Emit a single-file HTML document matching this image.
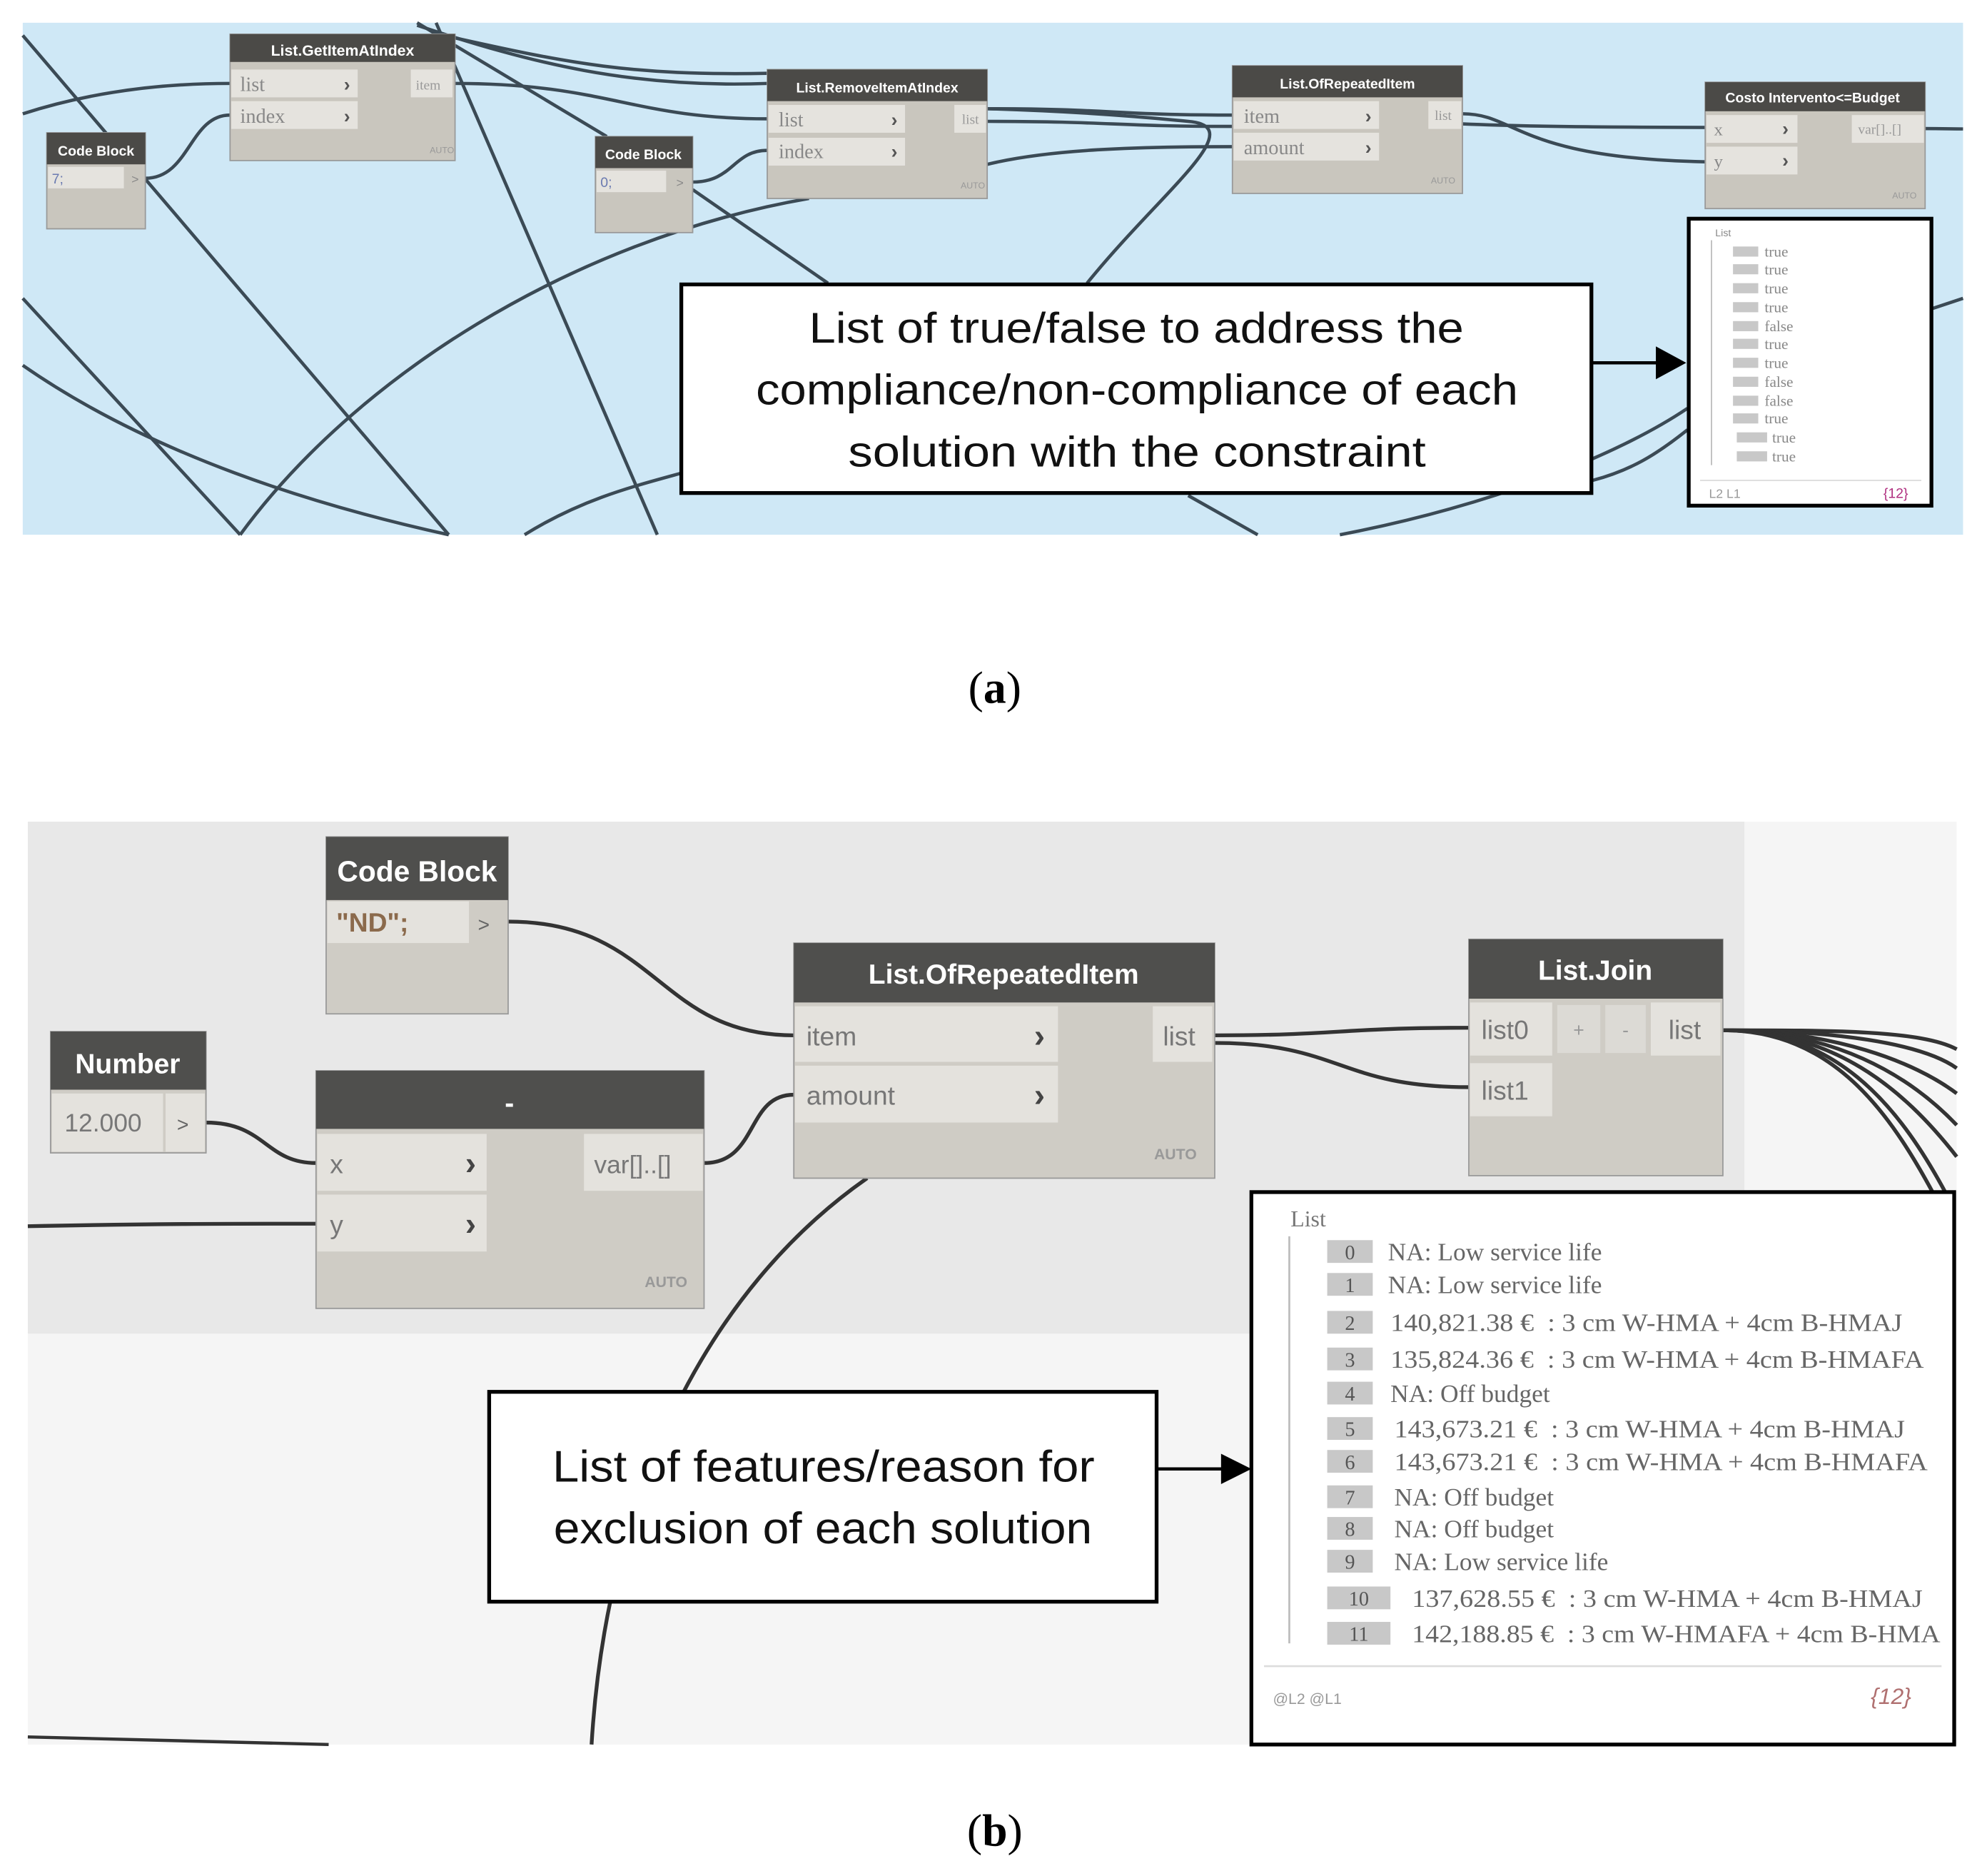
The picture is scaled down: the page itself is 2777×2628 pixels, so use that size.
<!DOCTYPE html>
<html><head><meta charset="utf-8"><style>
html,body{margin:0;padding:0;background:#fff;}
svg{display:block;}
text{font-family:"Liberation Sans",sans-serif;}
.serif,.serif text{font-family:"Liberation Serif",serif;}
</style></head><body>
<svg width="2777" height="2628" viewBox="0 0 1568 1484" preserveAspectRatio="none" xmlns="http://www.w3.org/2000/svg">
<rect width="1568" height="1484" fill="#fff"/>
<!-- PANEL A -->
<rect x="18" y="18" width="1535" height="405" fill="#cfe8f6"/>
<g fill="none" stroke="#3b4a55" stroke-width="2.6">
<path d="M18 28 L355 423"/>
<path d="M330 18 L480 108"/>
<path d="M345 18 L520 423"/>
<path d="M18 236 L190 423"/>
<path d="M18 289 C120 360 250 400 355 423"/>
<path d="M190 423 C280 300 450 190 640 157"/>
<path d="M415 423 C460 395 500 385 540 374"/>
<path d="M548 150 L655 224"/>
<path d="M860 224 C920 150 990 100 940 96 C900 92 850 88 781 86"/>
<path d="M781 130 C830 118 900 116 975 116"/>
<path d="M940 392 L995 423"/>
<path d="M1060 423 C1180 400 1280 360 1335 323"/>
<path d="M1529 244 L1553 236"/>
<path d="M18 90 C80 70 140 66 182 66"/>
<path d="M115 141 C150 141 150 91 182 91"/>
<path d="M360 66 C480 66 500 94 607 94"/>
<path d="M548 144 C580 144 580 119 607 119"/>
<path d="M330 20 C420 50 500 70 607 66"/>
<path d="M360 30 C450 50 500 60 607 58"/>
<path d="M781 86 C880 86 880 91 975 91"/>
<path d="M781 96 C880 96 880 100 975 100"/>
<path d="M1157 90 C1200 90 1200 125 1349 128"/>
<path d="M1157 98 C1250 102 1400 100 1553 102"/>
<path d="M1260 380 C1290 372 1310 360 1335 340"/>
</g>
<!-- nodes A -->
<g>
<rect x="182" y="27" width="178" height="100" fill="#c9c6be" stroke="#999" stroke-width="1"/>
<rect x="182" y="27" width="178" height="22" fill="#4b4a47"/>
<text x="271" y="44" font-size="12" fill="#fff" text-anchor="middle" font-weight="bold">List.GetItemAtIndex</text>
<rect x="183" y="55" width="100" height="22" fill="#e5e3de"/><rect x="183" y="80" width="100" height="22" fill="#e5e3de"/>
<rect x="325" y="55" width="33" height="22" fill="#e5e3de"/>
<text x="190" y="72" class="serif" font-size="16" fill="#888">list</text><text x="190" y="97" class="serif" font-size="16" fill="#888">index</text>
<text x="272" y="72" font-size="15" fill="#555" font-weight="bold">›</text><text x="272" y="97" font-size="15" fill="#555" font-weight="bold">›</text>
<text x="329" y="71" class="serif" font-size="11" fill="#999">item</text>
<text x="340" y="121" font-size="7" fill="#999">AUTO</text>

<rect x="37" y="105" width="78" height="76" fill="#c9c6be" stroke="#999"/>
<rect x="37" y="105" width="78" height="25" fill="#4b4a47"/>
<text x="76" y="123" font-size="11" fill="#fff" text-anchor="middle" font-weight="bold">Code Block</text>
<rect x="38" y="132" width="60" height="17" fill="#e5e3de"/>
<text x="41" y="145" font-size="11" fill="#6a7ab0">7;</text><text x="104" y="145" font-size="10" fill="#888">&gt;</text>

<rect x="471" y="108" width="77" height="76" fill="#c9c6be" stroke="#999"/>
<rect x="471" y="108" width="77" height="25" fill="#4b4a47"/>
<text x="509" y="126" font-size="11" fill="#fff" text-anchor="middle" font-weight="bold">Code Block</text>
<rect x="472" y="135" width="55" height="17" fill="#e5e3de"/>
<text x="475" y="148" font-size="11" fill="#6a7ab0">0;</text><text x="535" y="148" font-size="10" fill="#888">&gt;</text>

<rect x="607" y="55" width="174" height="102" fill="#c9c6be" stroke="#999"/>
<rect x="607" y="55" width="174" height="25" fill="#4b4a47"/>
<text x="694" y="73" font-size="11" fill="#fff" text-anchor="middle" font-weight="bold">List.RemoveItemAtIndex</text>
<rect x="608" y="83" width="108" height="22" fill="#e5e3de"/><rect x="608" y="109" width="108" height="22" fill="#e5e3de"/>
<rect x="755" y="83" width="25" height="22" fill="#e5e3de"/>
<text x="616" y="100" class="serif" font-size="16" fill="#888">list</text><text x="616" y="125" class="serif" font-size="16" fill="#888">index</text>
<text x="705" y="100" font-size="15" fill="#555" font-weight="bold">›</text><text x="705" y="125" font-size="15" fill="#555" font-weight="bold">›</text>
<text x="761" y="98" class="serif" font-size="11" fill="#999">list</text>
<text x="760" y="149" font-size="7" fill="#999">AUTO</text>

<rect x="975" y="52" width="182" height="101" fill="#c9c6be" stroke="#999"/>
<rect x="975" y="52" width="182" height="25" fill="#4b4a47"/>
<text x="1066" y="70" font-size="11" fill="#fff" text-anchor="middle" font-weight="bold">List.OfRepeatedItem</text>
<rect x="976" y="80" width="115" height="22" fill="#e5e3de"/><rect x="976" y="105" width="115" height="22" fill="#e5e3de"/>
<rect x="1130" y="80" width="26" height="22" fill="#e5e3de"/>
<text x="984" y="97" class="serif" font-size="16" fill="#888">item</text><text x="984" y="122" class="serif" font-size="16" fill="#888">amount</text>
<text x="1080" y="97" font-size="15" fill="#555" font-weight="bold">›</text><text x="1080" y="122" font-size="15" fill="#555" font-weight="bold">›</text>
<text x="1135" y="95" class="serif" font-size="11" fill="#999">list</text>
<text x="1132" y="145" font-size="7" fill="#999">AUTO</text>

<rect x="1349" y="65" width="174" height="100" fill="#c9c6be" stroke="#999"/>
<rect x="1349" y="65" width="174" height="23" fill="#4b4a47"/>
<text x="1434" y="81" font-size="11" fill="#fff" text-anchor="middle" font-weight="bold">Costo Intervento&lt;=Budget</text>
<rect x="1350" y="91" width="72" height="22" fill="#e5e3de"/><rect x="1350" y="116" width="72" height="22" fill="#e5e3de"/>
<rect x="1465" y="91" width="57" height="22" fill="#e5e3de"/>
<text x="1356" y="107" class="serif" font-size="14" fill="#888">x</text><text x="1356" y="132" class="serif" font-size="14" fill="#888">y</text>
<text x="1410" y="107" font-size="15" fill="#555" font-weight="bold">›</text><text x="1410" y="132" font-size="15" fill="#555" font-weight="bold">›</text>
<text x="1470" y="106" class="serif" font-size="11" fill="#999">var[]..[]</text>
<text x="1497" y="157" font-size="7" fill="#999">AUTO</text>
</g>
<!-- watch A -->
<rect x="1336" y="173" width="192" height="227" fill="#fff" stroke="#000" stroke-width="3"/>
<text x="1357" y="187" font-size="8" fill="#888">List</text>
<line x1="1354" y1="190" x2="1354" y2="368" stroke="#bbb" stroke-width="1"/>
<g class="serif" font-size="12" fill="#888">
<g fill="#c8c8c8"><rect x="1371" y="195" width="20" height="8"/><rect x="1371" y="209" width="20" height="8"/><rect x="1371" y="224" width="20" height="8"/><rect x="1371" y="239" width="20" height="8"/><rect x="1371" y="254" width="20" height="8"/><rect x="1371" y="268" width="20" height="8"/><rect x="1371" y="283" width="20" height="8"/><rect x="1371" y="298" width="20" height="8"/><rect x="1371" y="313" width="20" height="8"/><rect x="1371" y="327" width="20" height="8"/><rect x="1374" y="342" width="24" height="8"/><rect x="1374" y="357" width="24" height="8"/></g>
<text x="1396" y="203">true</text><text x="1396" y="217">true</text><text x="1396" y="232">true</text><text x="1396" y="247">true</text><text x="1396" y="262">false</text><text x="1396" y="276">true</text><text x="1396" y="291">true</text><text x="1396" y="306">false</text><text x="1396" y="321">false</text><text x="1396" y="335">true</text><text x="1402" y="350">true</text><text x="1402" y="365">true</text>
</g>
<line x1="1345" y1="380" x2="1520" y2="380" stroke="#ddd"/>
<text x="1352" y="394" font-size="10" fill="#999">L2  L1</text>
<text x="1490" y="394" font-size="11" fill="#b03080">{12}</text>
<!-- callout A -->
<rect x="539" y="225" width="720" height="165" fill="#fff" stroke="#000" stroke-width="3"/>
<g font-size="34" fill="#111">
<text x="640" y="271" textLength="518" lengthAdjust="spacingAndGlyphs">List of true/false to address the</text>
<text x="598" y="320" textLength="603" lengthAdjust="spacingAndGlyphs">compliance/non-compliance of each</text>
<text x="671" y="369" textLength="457" lengthAdjust="spacingAndGlyphs">solution with the constraint</text>
</g>
<line x1="1259" y1="287" x2="1312" y2="287" stroke="#000" stroke-width="2.5"/>
<polygon points="1310,274 1334,287 1310,300" fill="#000"/>
<text x="787" y="556" class="serif" font-size="36" text-anchor="middle" fill="#000">(<tspan font-weight="bold">a</tspan>)</text>

<!-- PANEL B -->
<rect x="22" y="650" width="1526" height="730" fill="#f5f5f5"/>
<rect x="22" y="650" width="1358" height="405" fill="#e8e8e8"/>
<g fill="none" stroke="#333" stroke-width="3">
<path d="M402 729 C520 729 520 819 628 819"/>
<path d="M163 888 C210 888 210 920 250 920"/>
<path d="M22 970 C120 968 180 968 250 968"/>
<path d="M557 920 C600 920 590 866 628 866"/>
<path d="M686 932 C560 1020 480 1180 468 1380"/>
<path d="M961 819 C1060 819 1060 813 1162 813"/>
<path d="M961 825 C1060 825 1060 860 1162 860"/>
<path d="M1363 815 C1450 815 1520 815 1548 830"/>
<path d="M1363 815 C1450 815 1520 825 1548 845"/>
<path d="M1363 815 C1450 815 1515 840 1548 865"/>
<path d="M1363 815 C1450 815 1510 850 1548 890"/>
<path d="M1363 815 C1450 815 1505 860 1548 915"/>
<path d="M1363 815 C1450 815 1500 870 1540 945"/>
<path d="M1363 815 C1450 815 1495 880 1530 945"/>
<path d="M22 1374 C100 1376 180 1378 260 1380" stroke-width="2.5"/>
</g>
<!-- Code Block b -->
<rect x="258" y="662" width="144" height="140" fill="#cfccc5" stroke="#999"/>
<rect x="258" y="662" width="144" height="50" fill="#4f4f4d"/>
<text x="330" y="697" font-size="23" fill="#fff" text-anchor="middle" font-weight="bold">Code Block</text>
<rect x="259" y="713" width="112" height="33" fill="#e4e2dd"/>
<text x="266" y="737" font-size="21" fill="#8b6a4c" font-weight="bold">"ND";</text>
<text x="378" y="737" font-size="16" fill="#666">&gt;</text>
<!-- Number -->
<rect x="40" y="816" width="123" height="96" fill="#cfccc5" stroke="#999"/>
<rect x="40" y="816" width="123" height="46" fill="#4f4f4d"/>
<text x="101" y="849" font-size="22" fill="#fff" text-anchor="middle" font-weight="bold">Number</text>
<rect x="41" y="865" width="88" height="46" fill="#e4e2dd"/><rect x="131" y="865" width="31" height="46" fill="#e4e2dd"/>
<text x="51" y="895" font-size="20" fill="#777">12.000</text><text x="140" y="895" font-size="16" fill="#666">&gt;</text>
<!-- minus node -->
<rect x="250" y="847" width="307" height="188" fill="#cfccc5" stroke="#999"/>
<rect x="250" y="847" width="307" height="46" fill="#4f4f4d"/>
<text x="403" y="880" font-size="22" fill="#fff" text-anchor="middle" font-weight="bold">-</text>
<rect x="251" y="897" width="134" height="45" fill="#e4e2dd"/><rect x="251" y="945" width="134" height="45" fill="#e4e2dd"/>
<rect x="462" y="897" width="94" height="45" fill="#e4e2dd"/>
<text x="261" y="928" font-size="21" fill="#777">x</text><text x="261" y="976" font-size="21" fill="#777">y</text>
<text x="368" y="929" font-size="26" fill="#444" font-weight="bold">›</text><text x="368" y="977" font-size="26" fill="#444" font-weight="bold">›</text>
<text x="470" y="928" font-size="20" fill="#777">var[]..[]</text>
<text x="510" y="1018" font-size="12" fill="#999" font-weight="bold">AUTO</text>
<!-- OfRepeatedItem b -->
<rect x="628" y="746" width="333" height="186" fill="#cfccc5" stroke="#999"/>
<rect x="628" y="746" width="333" height="47" fill="#4f4f4d"/>
<text x="794" y="778" font-size="22" fill="#fff" text-anchor="middle" font-weight="bold">List.OfRepeatedItem</text>
<rect x="629" y="796" width="208" height="44" fill="#e4e2dd"/><rect x="629" y="843" width="208" height="45" fill="#e4e2dd"/>
<rect x="912" y="796" width="47" height="44" fill="#e4e2dd"/>
<text x="638" y="827" font-size="21" fill="#777">item</text><text x="638" y="874" font-size="21" fill="#777">amount</text>
<text x="818" y="828" font-size="26" fill="#444" font-weight="bold">›</text><text x="818" y="875" font-size="26" fill="#444" font-weight="bold">›</text>
<text x="920" y="827" font-size="21" fill="#777">list</text>
<text x="913" y="917" font-size="12" fill="#999" font-weight="bold">AUTO</text>
<!-- List.Join -->
<rect x="1162" y="743" width="201" height="187" fill="#cfccc5" stroke="#999"/>
<rect x="1162" y="743" width="201" height="47" fill="#4f4f4d"/>
<text x="1262" y="775" font-size="22" fill="#fff" text-anchor="middle" font-weight="bold">List.Join</text>
<rect x="1163" y="793" width="65" height="42" fill="#e4e2dd"/><rect x="1163" y="841" width="65" height="42" fill="#e4e2dd"/>
<rect x="1232" y="795" width="34" height="38" fill="#dcdad5"/><rect x="1270" y="795" width="32" height="38" fill="#dcdad5"/>
<rect x="1306" y="793" width="55" height="42" fill="#e4e2dd"/>
<text x="1172" y="822" font-size="21" fill="#777">list0</text><text x="1172" y="870" font-size="21" fill="#777">list1</text>
<text x="1249" y="820" font-size="15" fill="#999" text-anchor="middle">+</text><text x="1286" y="820" font-size="15" fill="#999" text-anchor="middle">-</text>
<text x="1320" y="822" font-size="21" fill="#777">list</text>
<!-- watch B -->
<rect x="990" y="943" width="556" height="437" fill="#fff" stroke="#000" stroke-width="3"/>
<text x="1021" y="970" class="serif" font-size="18" fill="#777">List</text>
<line x1="1020" y1="978" x2="1020" y2="1300" stroke="#bbb" stroke-width="1.5"/>
<g fill="#c8c8c8">
<rect x="1050" y="981" width="36" height="18"/><rect x="1050" y="1007" width="36" height="18"/><rect x="1050" y="1037" width="36" height="18"/><rect x="1050" y="1066" width="36" height="18"/><rect x="1050" y="1093" width="36" height="18"/><rect x="1050" y="1121" width="36" height="18"/><rect x="1050" y="1147" width="36" height="18"/><rect x="1050" y="1175" width="36" height="18"/><rect x="1050" y="1200" width="36" height="18"/><rect x="1050" y="1226" width="36" height="18"/><rect x="1050" y="1255" width="50" height="18"/><rect x="1050" y="1283" width="50" height="18"/>
</g>
<g class="serif" font-size="16" fill="#555" text-anchor="middle">
<text x="1068" y="996">0</text><text x="1068" y="1022">1</text><text x="1068" y="1052">2</text><text x="1068" y="1081">3</text><text x="1068" y="1108">4</text><text x="1068" y="1136">5</text><text x="1068" y="1162">6</text><text x="1068" y="1190">7</text><text x="1068" y="1215">8</text><text x="1068" y="1241">9</text><text x="1075" y="1270">10</text><text x="1075" y="1298">11</text>
</g>
<g class="serif" font-size="20" fill="#666">
<text x="1098" y="997">NA: Low service life</text>
<text x="1098" y="1023">NA: Low service life</text>
<text x="1100" y="1053" textLength="405" lengthAdjust="spacingAndGlyphs">140,821.38 € &#160;: 3 cm W-HMA + 4cm B-HMAJ</text>
<text x="1100" y="1082" textLength="422" lengthAdjust="spacingAndGlyphs">135,824.36 € &#160;: 3 cm W-HMA + 4cm B-HMAFA</text>
<text x="1100" y="1109">NA: Off budget</text>
<text x="1103" y="1137" textLength="404" lengthAdjust="spacingAndGlyphs">143,673.21 € &#160;: 3 cm W-HMA + 4cm B-HMAJ</text>
<text x="1103" y="1163" textLength="422" lengthAdjust="spacingAndGlyphs">143,673.21 € &#160;: 3 cm W-HMA + 4cm B-HMAFA</text>
<text x="1103" y="1191">NA: Off budget</text>
<text x="1103" y="1216">NA: Off budget</text>
<text x="1103" y="1242">NA: Low service life</text>
<text x="1117" y="1271" textLength="404" lengthAdjust="spacingAndGlyphs">137,628.55 € &#160;: 3 cm W-HMA + 4cm B-HMAJ</text>
<text x="1117" y="1299" textLength="418" lengthAdjust="spacingAndGlyphs">142,188.85 € &#160;: 3 cm W-HMAFA + 4cm B-HMA</text>
</g>
<line x1="1000" y1="1318" x2="1536" y2="1318" stroke="#ddd" stroke-width="1.5"/>
<text x="1007" y="1348" font-size="12" fill="#999">@L2 @L1</text>
<text x="1480" y="1348" font-size="18" fill="#b07070" font-style="italic">{12}</text>
<!-- callout B -->
<rect x="387" y="1101" width="528" height="166" fill="#fff" stroke="#000" stroke-width="3"/>
<g font-size="35" fill="#111">
<text x="437" y="1172" textLength="429" lengthAdjust="spacingAndGlyphs">List of features/reason for</text>
<text x="438" y="1221" textLength="426" lengthAdjust="spacingAndGlyphs">exclusion of each solution</text>
</g>
<line x1="915" y1="1162" x2="968" y2="1162" stroke="#000" stroke-width="2.5"/>
<polygon points="966,1150 990,1162 966,1174" fill="#000"/>
<text x="787" y="1460" class="serif" font-size="36" text-anchor="middle" fill="#000">(<tspan font-weight="bold">b</tspan>)</text>
</svg>
</body></html>
